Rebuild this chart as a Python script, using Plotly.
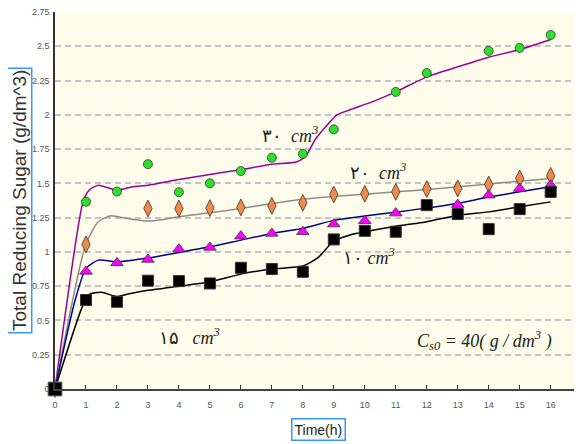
import plotly.graph_objects as go

# ---------------- data ----------------
# measured points (time in h, total reducing sugar in g/dm^3)
t_30 = [0, 1, 2, 3, 4, 5, 6, 7, 8, 9, 11, 12, 14, 15, 16]
v_30 = [0, 1.366, 1.44, 1.64, 1.435, 1.50, 1.59, 1.687, 1.715, 1.894, 2.167, 2.305, 2.466, 2.488, 2.583]

t_20 = [0, 1, 3, 4, 5, 6, 7, 8, 9, 10, 11, 12, 13, 14, 15, 16]
v_20 = [0, 1.055, 1.317, 1.317, 1.32, 1.325, 1.336, 1.358, 1.419, 1.424, 1.438, 1.458, 1.463, 1.492, 1.536, 1.555]

t_15 = [0, 1, 2, 3, 4, 5, 6, 7, 8, 9, 10, 11, 13, 14, 15, 16]
v_15 = [0, 0.858, 0.92, 0.945, 1.02, 1.033, 1.115, 1.135, 1.147, 1.203, 1.227, 1.283, 1.345, 1.414, 1.463, 1.487]

t_10 = [0, 1, 2, 3, 4, 5, 6, 7, 8, 9, 10, 11, 12, 13, 14, 15, 16]
v_10 = [0, 0.649, 0.636, 0.79, 0.787, 0.77, 0.884, 0.875, 0.855, 1.091, 1.154, 1.147, 1.341, 1.276, 1.166, 1.312, 1.438]

# model curves
mt_30 = [0, 0.9, 1.1, 1.4, 2, 2.5, 3, 4, 5, 6, 7, 7.8, 8.1, 8.4, 8.8, 9.1, 9.5, 10.3, 11, 12, 13, 14, 15, 16]
mv_30 = [0, 1.36, 1.45, 1.487, 1.45, 1.475, 1.487, 1.528, 1.565, 1.60, 1.64, 1.656, 1.70, 1.82, 1.93, 2.0, 2.035, 2.10, 2.167, 2.277, 2.35, 2.42, 2.476, 2.55]

mt_20 = [0, 1, 1.4, 1.8, 2.3, 3, 3.5, 4, 5, 6, 7, 8, 9, 10, 11, 12, 13, 14, 15, 16]
mv_20 = [0, 1.06, 1.22, 1.263, 1.245, 1.225, 1.237, 1.256, 1.285, 1.317, 1.353, 1.385, 1.405, 1.42, 1.438, 1.455, 1.475, 1.495, 1.516, 1.536]

mt_15 = [0, 0.65, 1, 1.4, 2, 3, 4, 5, 6, 7, 8, 9, 10, 11, 12, 13, 14, 15, 16]
mv_15 = [0, 0.649, 0.88, 0.94, 0.928, 0.955, 0.996, 1.037, 1.086, 1.135, 1.171, 1.23, 1.262, 1.29, 1.32, 1.355, 1.40, 1.438, 1.475]

mt_10 = [0, 0.86, 1.1, 1.5, 2, 2.4, 3, 4, 5, 6, 7, 8, 8.5, 9, 9.5, 10, 11, 12, 13, 14, 15, 16]
mv_10 = [0, 0.588, 0.69, 0.705, 0.675, 0.695, 0.72, 0.75, 0.78, 0.838, 0.875, 0.897, 0.96, 1.08, 1.122, 1.147, 1.188, 1.22, 1.268, 1.292, 1.329, 1.365]

x_ticks = list(range(0, 17))
y_ticks = [0, 0.25, 0.5, 0.75, 1, 1.25, 1.5, 1.75, 2, 2.25, 2.5, 2.75]
y_tick_text = ["0", "0.25", "0.5", "0.75", "1", "1.25", "1.5", "1.75", "2", "2.25", "2.5", "2.75"]

# ---------------- figure ----------------
fig = go.Figure()

line_specs = [
    (mt_30, mv_30, "#990099"),
    (mt_20, mv_20, "#8C8C8C"),
    (mt_15, mv_15, "#00008F"),
    (mt_10, mv_10, "#000000"),
]
for xs, ys, col in line_specs:
    fig.add_trace(go.Scatter(x=xs, y=ys, mode="lines",
                             line=dict(color=col, width=1.5, shape="spline", smoothing=0.6),
                             hoverinfo="skip", showlegend=False))

marker_specs = [
    (t_30, v_30, "circle", "#2EE02E", 9),
    (t_20, v_20, "diamond-tall", "#F4884A", 12),
    (t_15, v_15, "triangle-up", "#FF00FF", 11),
]
for xs, ys, sym, col, sz in marker_specs:
    fig.add_trace(go.Scatter(x=xs, y=ys, mode="markers",
                             marker=dict(symbol=sym, color=col, size=sz, opacity=1,
                                         line=dict(color="#333333", width=0.8)),
                             cliponaxis=False, showlegend=False))

# black squares; the shared origin point is drawn a little larger with a grey rim
sq_sizes = [14] + [11] * (len(t_10) - 1)
sq_rims = ["#888888"] + ["#333333"] * (len(t_10) - 1)
fig.add_trace(go.Scatter(x=t_10, y=v_10, mode="markers",
                         marker=dict(symbol="square", color="#000000", size=sq_sizes, opacity=1,
                                     line=dict(color=sq_rims, width=1)),
                         cliponaxis=False, showlegend=False))

serif = "Liberation Serif, Times New Roman, serif"
lab_font = dict(family=serif, size=18, color="#222222")
labels = [
    (7.58, 1.86, "۳۰  <i>cm<sup>3</sup></i>"),
    (10.43, 1.59, "۲۰  <i>cm<sup>3</sup></i>"),
    (10.15, 0.97, "۱۰ <i>cm<sup>3</sup></i>"),
    (4.33, 0.38, "۱۵   <i>cm<sup>3</sup></i>"),
    (13.87, 0.355, "<i>C<sub>s0</sub> = 40( g / dm<sup>3</sup> )</i>"),
]
for x, y, txt in labels:
    fig.add_annotation(x=x, y=y, xref="x", yref="y", text=txt, showarrow=False,
                       font=lab_font)

tick_font = dict(family="Liberation Sans Narrow, Liberation Sans, Arial", size=9, color="#555555")

# clipped "17" tick label at the right edge (cut off in the reference too)
fig.add_annotation(x=1.003, y=0, xref="paper", yref="paper", yshift=-16, text="17",
                   showarrow=False, xanchor="center", font=tick_font)

# boxed axis titles
fig.add_annotation(x=-0.069, y=0.5, xref="paper", yref="paper",
                   text="Total Reducing Sugar (g/dm^3)", textangle=-90, showarrow=False,
                   font=dict(family="Liberation Sans, Arial", size=19, color="#333333"),
                   bordercolor="#3399FF", borderwidth=1.5, borderpad=1, xanchor="center", yanchor="middle")
fig.add_annotation(x=0.505, y=-0.107, xref="paper", yref="paper",
                   text="Time(h)", showarrow=False,
                   font=dict(family="Liberation Sans, Arial", size=14, color="#222222"),
                   bordercolor="#3399FF", borderwidth=1.5, borderpad=2, xanchor="center", yanchor="middle")

# the page body has an 8px margin, so the figure is sized to fit the window
fig.update_layout(
    width=574, height=436,
    margin=dict(l=47, r=5, t=4, b=55),
    paper_bgcolor="white",
    plot_bgcolor="#FEFDEB",
    showlegend=False,
    xaxis=dict(range=[0, 16.85], tickvals=x_ticks, ticks="inside", ticklen=4,
               tickcolor="#333333", showgrid=False, zeroline=False,
               showline=True, linecolor="#444444", linewidth=1.5,
               tickfont=tick_font, ticklabelstandoff=6, fixedrange=True, automargin=False,
               ticklabeloverflow="allow"),
    yaxis=dict(range=[0, 2.75], tickvals=y_ticks, ticktext=y_tick_text, ticks="",
               showgrid=True, gridcolor="#C4C4C4", griddash="6px,4px", gridwidth=1.5,
               zeroline=False, showline=True, linecolor="#333333", linewidth=1.5,
               mirror=True, tickfont=tick_font, ticklabelstandoff=2, fixedrange=True,
               automargin=False, ticklabeloverflow="allow"),
)

fig.write_html("out.html")
